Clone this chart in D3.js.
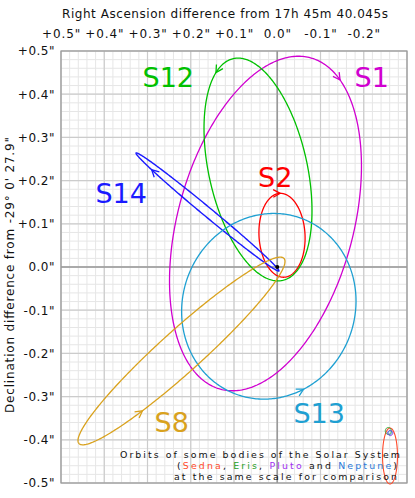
<!DOCTYPE html>
<html><head><meta charset="utf-8">
<script src="https://cdn.jsdelivr.net/npm/d3@7/dist/d3.min.js"></script>
<style>body{margin:0;background:#fff}text{font-family:"DejaVu Sans",sans-serif}</style>
</head><body><svg id="c" width="415" height="498"></svg>
<script>
// ---------- data ----------
const xTicks = [0.5, 0.4, 0.3, 0.2, 0.1, 0, -0.1, -0.2];
const xTickLabels = ['+0.5"', '+0.4"', '+0.3"', '+0.2"', '+0.1"', '0.0"', '-0.1"', '-0.2"'];
const yTicks = [0.5, 0.4, 0.3, 0.2, 0.1, 0, -0.1, -0.2, -0.3, -0.4, -0.5];
const yTickLabels = ['+0.5"', '+0.4"', '+0.3"', '+0.2"', '+0.1"', '0.0"', '-0.1"', '-0.2"', '-0.3"', '-0.4"', '-0.5"'];

// S-star projected orbits (arcsec): centre, semi-axes, position angle of major axis (deg, N through E)
const stars     = ["S1", "S2", "S12", "S14", "S13", "S8"];
const centerRA  = [0.0272, -0.011, 0.0445, 0.1613, 0.0195, 0.2214];
const centerDec = [0.1007, 0.0734, 0.2257, 0.1273, -0.091, -0.1944];
const semiMajor = [0.3974, 0.0972, 0.2629, 0.2143, 0.2171, 0.3195];
const semiMinor = [0.203, 0.0532, 0.1138, 0.0106, 0.1993, 0.0486];
const posAngle  = [-15.2, 3, 12.5, 50.4, -20.8, -47.9];
// direction-of-motion arrow locations (arcsec) and sense on the sky image
const arrowRA   = [-0.150, -0.0069, 0.1394, 0.2897, -0.0608, 0.3013];
const arrowDec  = [0.4375, 0.1667, 0.4484, 0.2245, -0.2863, -0.3426];
const sense     = ["cw", "cw", "ccw", "cw", "ccw", "ccw"];

// Solar-system comparison orbits (arcsec)
const bodies     = ["Sedna", "Eris", "Pluto", "Neptune"];
const bodyRA     = [-0.2607, -0.2568, -0.2614, -0.2607];
const bodyDec    = [-0.4375, -0.3796, -0.3843, -0.3838];
const bodyRx     = [0.0173, 0.0069, 0.0060, 0.0046];
const bodyRy     = [0.0648, 0.0081, 0.0060, 0.0046];

// ---------- styles / layout ----------
const starColor = {S1: "#d000d0", S2: "#ff0000", S12: "#00c000", S14: "#1a1aff", S13: "#1fa0d2", S8: "#d9a21e"};
const bodyColor = {Sedna: "#ff4a2a", Eris: "#1fa01f", Pluto: "#a030f0", Neptune: "#2a7ad8"};
const labelPos = {S1: [-0.2185, 0.4167], S2: [0.0046, 0.1852], S12: [0.252, 0.4167],
                  S14: [0.3607, 0.1481], S8: [0.2439, -0.3819], S13: [-0.0971, -0.3611]};

const svg = d3.select("#c");
const x = d3.scaleLinear().domain([0.5, -0.3]).range([61, 407]);
const y = d3.scaleLinear().domain([0.5, -0.5]).range([51, 483]);

// grid
const g = svg.append("g");
const minorX = d3.range(-15, 26).map(i => i * 0.02);
const minorY = d3.range(-25, 26).map(i => i * 0.02);
const majorX = d3.range(-3, 6).map(i => i * 0.1);
const majorY = d3.range(-5, 6).map(i => i * 0.1);
g.selectAll(".mx").data(minorX).join("line").attr("x1", d => x(d)).attr("x2", d => x(d))
  .attr("y1", y(0.5)).attr("y2", y(-0.5)).attr("stroke", "#e6e6e6").attr("stroke-width", 1);
g.selectAll(".my").data(minorY).join("line").attr("y1", d => y(d)).attr("y2", d => y(d))
  .attr("x1", x(0.5)).attr("x2", x(-0.3)).attr("stroke", "#e6e6e6").attr("stroke-width", 1);
g.selectAll(".Mx").data(majorX).join("line").attr("x1", d => x(d)).attr("x2", d => x(d))
  .attr("y1", y(0.5)).attr("y2", y(-0.5)).attr("stroke", "#cccccc").attr("stroke-width", 1.2);
g.selectAll(".My").data(majorY).join("line").attr("y1", d => y(d)).attr("y2", d => y(d))
  .attr("x1", x(0.5)).attr("x2", x(-0.3)).attr("stroke", "#cccccc").attr("stroke-width", 1.2);
g.append("line").attr("x1", x(0)).attr("x2", x(0)).attr("y1", y(0.5)).attr("y2", y(-0.5))
  .attr("stroke", "#999").attr("stroke-width", 1.6);
g.append("line").attr("y1", y(0)).attr("y2", y(0)).attr("x1", x(0.5)).attr("x2", x(-0.3))
  .attr("stroke", "#999").attr("stroke-width", 1.6);
g.append("rect").attr("x", x(0.5)).attr("y", y(0.5)).attr("width", x(-0.3) - x(0.5))
  .attr("height", y(-0.5) - y(0.5)).attr("fill", "none").attr("stroke", "#999").attr("stroke-width", 1.2);

// axes labels
const ax = svg.append("g").attr("transform", "translate(0,38)")
  .call(d3.axisTop(x).tickValues(xTicks).tickSize(0).tickPadding(0)
    .tickFormat((d, i) => xTickLabels[i]));
ax.select(".domain").remove();
ax.selectAll("text").attr("font-size", 12).attr("fill", "#111").attr("letter-spacing", 0.9)
  .attr("font-family", "DejaVu Sans");
const ay = svg.append("g").attr("transform", "translate(55,0)")
  .call(d3.axisLeft(y).tickValues(yTicks).tickSize(0).tickPadding(0)
    .tickFormat((d, i) => yTickLabels[i]));
ay.select(".domain").remove();
ay.selectAll("text").attr("font-size", 12).attr("fill", "#111").attr("letter-spacing", 0.5)
  .attr("font-family", "DejaVu Sans");

svg.append("text").attr("x", 225).attr("y", 18).attr("text-anchor", "middle")
  .attr("font-size", 12).attr("fill", "#111").attr("textLength", 326).attr("lengthAdjust", "spacing")
  .text("Right Ascension difference from 17h 45m 40.045s");
svg.append("text").attr("transform", "translate(13.5,275) rotate(-90)").attr("text-anchor", "middle")
  .attr("font-size", 12).attr("fill", "#111").attr("textLength", 276).attr("lengthAdjust", "spacing")
  .text("Declination difference from -29° 0' 27.9\"");

// ellipse helper
function ellipsePts(cra, cdec, a, b, pa, n) {
  const p = pa * Math.PI / 180;
  const U = [Math.sin(p), Math.cos(p)], V = [Math.cos(p), -Math.sin(p)];
  return d3.range(n + 1).map(k => {
    const t = 2 * Math.PI * k / n;
    const ra = cra + a * Math.cos(t) * U[0] + b * Math.sin(t) * V[0];
    const de = cdec + a * Math.cos(t) * U[1] + b * Math.sin(t) * V[1];
    return [x(ra), y(de)];
  });
}
const line = d3.line().curve(d3.curveLinearClosed);

const orb = svg.append("g").attr("fill", "none");
stars.forEach((s, i) => {
  const pts = ellipsePts(centerRA[i], centerDec[i], semiMajor[i], semiMinor[i], posAngle[i], 360);
  pts.pop();
  orb.append("path").attr("d", line(pts)).attr("stroke", starColor[s])
    .attr("stroke-width", s === "S14" ? 1.4 : 1.3);
  // arrow
  const ax0 = x(arrowRA[i]), ay0 = y(arrowDec[i]);
  let best = 0, bd = Infinity;
  pts.forEach((p, k) => { const d = (p[0] - ax0) ** 2 + (p[1] - ay0) ** 2; if (d < bd) { bd = d; best = k; } });
  const P = pts[best], N = pts[(best + 1) % pts.length], M = pts[(best - 1 + pts.length) % pts.length];
  let tx = N[0] - M[0], ty = N[1] - M[1];
  const cx = x(centerRA[i]), cy = y(centerDec[i]);
  const z = (P[0] - cx) * ty - (P[1] - cy) * tx;
  if ((sense[i] === "cw" && z < 0) || (sense[i] === "ccw" && z > 0)) { tx = -tx; ty = -ty; }
  const L = Math.hypot(tx, ty); tx /= L; ty /= L;
  const len = 7, hw = 3.8;
  const bx = P[0] - tx * len, by = P[1] - ty * len;
  orb.append("path")
    .attr("d", `M${bx - ty * hw},${by + tx * hw}L${P[0]},${P[1]}L${bx + ty * hw},${by - tx * hw}`)
    .attr("stroke", starColor[s]).attr("stroke-width", 1.3);
  // label
  svg.append("text").attr("x", x(labelPos[s][0])).attr("y", y(labelPos[s][1]))
    .attr("text-anchor", "middle").attr("font-size", 27).attr("fill", starColor[s]).text(s);
});

// Sgr A*
svg.append("circle").attr("cx", x(0)).attr("cy", y(0)).attr("r", 2).attr("fill", "#000");

// Solar-system orbits
bodies.forEach((b, i) => {
  const pts = ellipsePts(bodyRA[i], bodyDec[i], bodyRy[i], bodyRx[i], 0, 120);
  pts.pop();
  svg.append("path").attr("d", line(pts)).attr("fill", "none").attr("stroke", bodyColor[b])
    .attr("stroke-width", b === "Sedna" ? 1.1 : 1);
});

// legend text
const leg = svg.append("g").attr("font-size", 9.4).attr("fill", "#111").attr("text-anchor", "end")
  .attr("font-weight", 500);
leg.append("text").attr("x", 400).attr("y", 457.5).attr("textLength", 280).attr("lengthAdjust", "spacing")
  .text("Orbits of some bodies of the Solar System");
const l2 = leg.append("text").attr("x", 397).attr("y", 468.5).attr("textLength", 220)
  .attr("lengthAdjust", "spacing").style("white-space", "pre");
[["(", null], ["Sedna", "Sedna"], [", ", null], ["Eris", "Eris"], [", ", null], ["Pluto", "Pluto"],
 [" and ", null], ["Neptune", "Neptune"], [")", null]].forEach(([t, c]) => {
  const ts = l2.append("tspan").text(t);
  if (c) ts.attr("fill", bodyColor[c]);
});
leg.append("text").attr("x", 397).attr("y", 479.5).attr("textLength", 223).attr("lengthAdjust", "spacing")
  .text("at the same scale for comparison");
</script></body></html>
